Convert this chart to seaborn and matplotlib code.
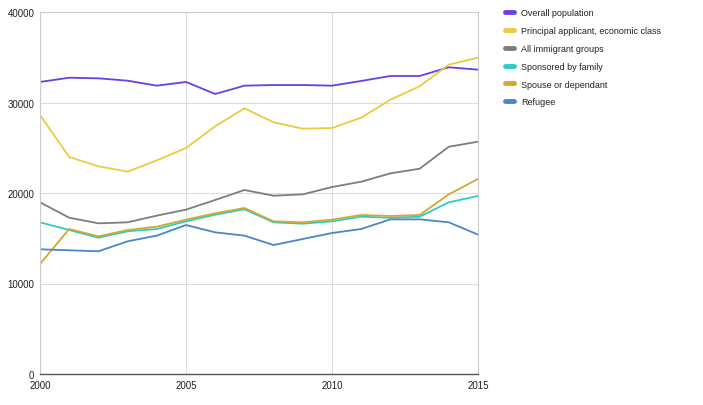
import matplotlib
matplotlib.use("Agg")
import matplotlib.pyplot as plt
import seaborn as sns
import pandas as pd

years = list(range(2000, 2016))
overall = [32270, 32740, 32670, 32410, 31860, 32270, 30940, 31860, 31930, 31930, 31860, 32380, 32930, 32930, 33890, 33630]
principal = [28620, 23980, 22950, 22360, 23610, 24970, 27370, 29360, 27810, 27110, 27180, 28320, 30310, 31790, 34180, 34950]
all_imm = [18970, 17270, 16650, 16760, 17500, 18160, 19230, 20330, 19700, 19850, 20660, 21250, 22170, 22680, 25110, 25670]
sponsored = [16760, 15910, 15060, 15770, 16020, 16870, 17600, 18200, 16760, 16610, 16870, 17380, 17270, 17380, 18970, 19670]
spouse = [12150, 16020, 15210, 15910, 16280, 17050, 17760, 18340, 16870, 16760, 17050, 17570, 17460, 17570, 19850, 21550]
refugee = [13780, 13670, 13560, 14660, 15290, 16460, 15650, 15290, 14250, 14920, 15580, 16020, 17090, 17090, 16760, 15400]

series_names = ["Overall population", "Principal applicant, economic class", "All immigrant groups",
                "Sponsored by family", "Spouse or dependant", "Refugee"]
series_vals = [overall, principal, all_imm, sponsored, spouse, refugee]
colors = ["#6a3fe6", "#e9cc3f", "#7d7d7d", "#27cfc4", "#d7a531", "#4b86c6"]

rows = []
for name, vals in zip(series_names, series_vals):
    for y, v in zip(years, vals):
        rows.append({"Year": y, "Value": v, "Series": name})
df = pd.DataFrame(rows)

sns.set_theme(style="white")
plt.rcParams["font.family"] = ["Liberation Sans", "DejaVu Sans"]

fig = plt.figure(figsize=(7.03, 4.06), dpi=100)
ax = fig.add_axes([40/703, 1 - 375/406, 438/703, 362/406])

sns.lineplot(data=df, x="Year", y="Value", hue="Series", hue_order=series_names,
             palette=colors, linewidth=1.3, ax=ax, legend=False)

ax.set_xlim(2000, 2015)
ax.set_ylim(0, 40000)
ax.set_xticks([2000, 2005, 2010, 2015])
ax.set_yticks([0, 10000, 20000, 30000, 40000])
ax.tick_params(axis="both", labelsize=7, colors="#222222", length=0, pad=4)
ax.set_xlabel("")
ax.set_ylabel("")
ax.grid(True, color="#dddddd", linewidth=0.8)
ax.set_axisbelow(True)
for s in ["top", "right", "left"]:
    ax.spines[s].set_color("#cccccc")
    ax.spines[s].set_linewidth(0.8)
ax.spines["bottom"].set_color("#555555")
ax.spines["bottom"].set_linewidth(1.0)

# legend
from matplotlib.lines import Line2D
handles = [Line2D([0], [0], color=c, linewidth=3.5) for c in colors]
fig.legend(handles, series_names, loc="upper left", bbox_to_anchor=(497/703, 1 - 1/406),
           frameon=False, fontsize=6.5, handlelength=1.0, handletextpad=0.8,
           labelspacing=0.98, labelcolor="#222222")

fig.savefig("out.png", dpi=100)
